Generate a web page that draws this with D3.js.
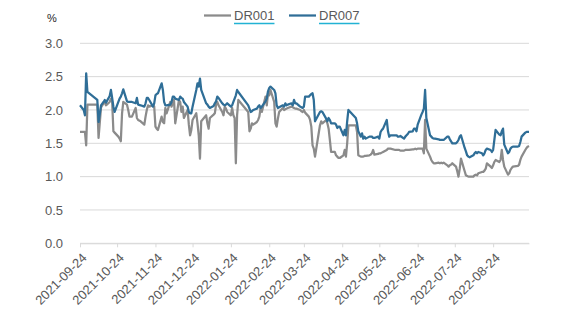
<!DOCTYPE html>
<html>
<head>
<meta charset="utf-8">
<script src="https://cdn.jsdelivr.net/npm/d3@7"></script>
<style>
  html, body { margin: 0; padding: 0; background: #ffffff; }
  svg { display: block; font-family: "Liberation Sans", Arial, sans-serif; }
</style>
</head>
<body>
<svg id="chart" width="569" height="329"></svg>
<script>
// Interbank repo rates, Sep 2021 – Sep 2022 (%)
const dates = [
  "2021-09-24","2021-09-27","2021-09-28","2021-09-29","2021-09-30","2021-10-08","2021-10-09","2021-10-11","2021-10-13","2021-10-14",
  "2021-10-15","2021-10-18","2021-10-19","2021-10-20","2021-10-21","2021-10-22","2021-10-25","2021-10-26","2021-10-27","2021-10-28",
  "2021-10-29","2021-11-01","2021-11-02","2021-11-03","2021-11-05","2021-11-08","2021-11-09","2021-11-10","2021-11-12","2021-11-15",
  "2021-11-16","2021-11-17","2021-11-18","2021-11-19","2021-11-22","2021-11-23","2021-11-24","2021-11-25","2021-11-26","2021-11-29",
  "2021-11-30","2021-12-01","2021-12-02","2021-12-03","2021-12-06","2021-12-07","2021-12-08","2021-12-09","2021-12-10","2021-12-13",
  "2021-12-14","2021-12-15","2021-12-16","2021-12-17","2021-12-20","2021-12-21","2021-12-22","2021-12-23","2021-12-24","2021-12-27",
  "2021-12-28","2021-12-29","2021-12-30","2021-12-31","2022-01-04","2022-01-05","2022-01-06","2022-01-07","2022-01-10","2022-01-11",
  "2022-01-12","2022-01-13","2022-01-14","2022-01-17","2022-01-18","2022-01-19","2022-01-20","2022-01-21","2022-01-24","2022-01-25",
  "2022-01-26","2022-01-27","2022-01-28","2022-01-29","2022-01-30","2022-02-07","2022-02-08","2022-02-09","2022-02-10","2022-02-11",
  "2022-02-14","2022-02-15","2022-02-16","2022-02-17","2022-02-18","2022-02-21","2022-02-22","2022-02-23","2022-02-24","2022-02-25",
  "2022-02-28","2022-03-01","2022-03-02","2022-03-03","2022-03-04","2022-03-07","2022-03-08","2022-03-09","2022-03-10","2022-03-11",
  "2022-03-14","2022-03-15","2022-03-16","2022-03-17","2022-03-18","2022-03-21","2022-03-22","2022-03-23","2022-03-24","2022-03-25",
  "2022-03-28","2022-03-29","2022-03-30","2022-03-31","2022-04-01","2022-04-02","2022-04-06","2022-04-07","2022-04-08","2022-04-11",
  "2022-04-12","2022-04-13","2022-04-14","2022-04-15","2022-04-18","2022-04-19","2022-04-20","2022-04-21","2022-04-22","2022-04-25",
  "2022-04-26","2022-04-27","2022-04-28","2022-04-29","2022-05-05","2022-05-06","2022-05-07","2022-05-09","2022-05-10","2022-05-11",
  "2022-05-12","2022-05-13","2022-05-16","2022-05-17","2022-05-18","2022-05-19","2022-05-20","2022-05-23","2022-05-24","2022-05-25",
  "2022-05-26","2022-05-27","2022-05-30","2022-05-31","2022-06-01","2022-06-02","2022-06-06","2022-06-07","2022-06-08","2022-06-09",
  "2022-06-10","2022-06-13","2022-06-14","2022-06-15","2022-06-16","2022-06-17","2022-06-20","2022-06-21","2022-06-22","2022-06-23",
  "2022-06-24","2022-06-27","2022-06-28","2022-06-29","2022-06-30","2022-07-01","2022-07-04","2022-07-05","2022-07-06","2022-07-07",
  "2022-07-08","2022-07-11","2022-07-12","2022-07-13","2022-07-14","2022-07-15","2022-07-18","2022-07-19","2022-07-20","2022-07-21",
  "2022-07-22","2022-07-25","2022-07-26","2022-07-27","2022-07-28","2022-07-29","2022-08-01","2022-08-02","2022-08-03","2022-08-04",
  "2022-08-05","2022-08-08","2022-08-09","2022-08-10","2022-08-11","2022-08-12","2022-08-15","2022-08-16","2022-08-17","2022-08-18",
  "2022-08-19","2022-08-22","2022-08-23","2022-08-24","2022-08-25","2022-08-26","2022-08-29","2022-08-30","2022-08-31","2022-09-01",
  "2022-09-02","2022-09-05","2022-09-06","2022-09-07","2022-09-08","2022-09-09","2022-09-13","2022-09-14","2022-09-15","2022-09-16",
  "2022-09-19","2022-09-20","2022-09-21","2022-09-22"
];

const dr001 = [
  1.67,1.67,1.67,1.47,2.08,2.08,1.58,2.04,2.10,2.12,
  2.07,2.12,2.17,2.12,1.68,1.66,1.60,1.57,1.53,1.95,
  2.12,2.08,2.00,1.90,1.90,2.03,1.88,1.85,1.83,1.78,
  1.90,2.00,2.07,2.05,2.07,2.05,1.75,1.72,1.70,1.90,
  1.82,1.80,2.03,1.95,2.12,2.05,2.10,2.15,1.80,2.15,
  2.12,1.97,2.05,1.88,2.00,1.78,1.62,1.70,1.85,1.95,
  1.80,1.62,1.27,1.83,1.92,1.80,1.72,1.88,1.93,1.95,
  2.08,2.12,2.07,1.97,1.92,2.05,2.02,1.97,1.92,2.03,
  1.92,1.88,1.20,1.92,2.15,1.97,1.68,1.72,1.80,1.78,
  1.82,1.85,1.90,2.03,1.97,2.20,2.07,2.25,2.22,2.30,
  2.12,1.80,1.75,1.87,1.97,2.03,2.00,2.01,2.02,2.03,
  2.05,2.04,2.03,2.02,2.02,2.00,1.98,1.97,2.00,1.96,
  1.90,1.85,1.75,1.47,1.42,1.30,1.77,1.83,1.80,1.85,
  1.80,1.72,1.55,1.37,1.37,1.32,1.30,1.28,1.28,1.32,
  1.40,1.30,1.50,1.77,1.77,1.67,1.32,1.30,1.30,1.30,
  1.31,1.31,1.32,1.33,1.35,1.40,1.33,1.34,1.35,1.35,
  1.36,1.37,1.40,1.42,1.42,1.42,1.40,1.40,1.40,1.40,
  1.39,1.39,1.40,1.40,1.40,1.40,1.41,1.41,1.42,1.41,
  1.42,1.42,1.42,1.35,1.85,1.42,1.30,1.25,1.22,1.20,
  1.20,1.21,1.20,1.21,1.20,1.21,1.17,1.15,1.17,1.18,
  1.20,1.15,1.08,1.00,1.12,1.27,1.08,1.02,1.01,1.00,
  1.00,1.00,1.02,1.03,1.02,1.05,1.07,1.07,1.09,1.12,
  1.20,1.15,1.13,1.17,1.22,1.25,1.22,1.25,1.40,1.25,
  1.15,1.03,1.05,1.10,1.13,1.15,1.16,1.18,1.25,1.30,
  1.40,1.43,1.45,1.46
];

const dr007 = [
  2.07,2.00,1.92,2.55,2.27,2.15,1.82,2.07,2.12,2.15,
  2.11,2.21,2.30,2.18,2.05,1.97,2.12,2.17,2.20,2.25,
  2.31,2.13,2.12,2.12,2.12,2.10,2.18,2.08,2.07,2.05,
  2.10,2.18,2.18,2.15,2.05,2.10,2.22,2.24,2.25,2.40,
  2.30,2.12,2.07,2.07,2.08,2.12,2.20,2.20,2.17,2.15,
  2.20,2.18,2.17,2.12,2.05,1.97,1.95,1.95,2.05,2.30,
  2.40,2.35,2.47,2.30,2.10,2.08,2.05,2.03,2.06,2.10,
  2.13,2.20,2.18,2.10,2.08,2.07,2.08,2.10,2.05,2.07,
  2.12,2.17,2.22,2.30,2.27,2.07,2.02,1.97,1.98,2.00,
  2.02,2.05,2.07,2.03,2.05,2.13,2.17,2.28,2.33,2.35,
  2.30,2.25,2.07,2.03,2.04,2.07,2.05,2.10,2.07,2.08,
  2.10,2.07,2.15,2.10,2.10,2.05,2.04,2.03,2.05,2.20,
  2.20,2.22,2.24,2.25,2.15,1.83,1.97,1.98,1.97,1.87,
  1.83,1.88,1.85,1.80,1.80,1.78,1.73,1.75,1.75,1.62,
  1.70,1.62,1.83,2.00,1.88,1.80,1.68,1.60,1.65,1.57,
  1.60,1.57,1.60,1.60,1.60,1.58,1.58,1.60,1.57,1.67,
  1.70,1.72,1.85,1.68,1.60,1.62,1.62,1.62,1.60,1.60,
  1.61,1.57,1.60,1.62,1.64,1.67,1.68,1.72,1.72,1.68,
  1.78,1.93,1.97,2.02,2.30,1.88,1.62,1.60,1.58,1.57,
  1.57,1.56,1.55,1.55,1.55,1.55,1.60,1.60,1.56,1.53,
  1.50,1.50,1.52,1.55,1.60,1.62,1.43,1.38,1.32,1.30,
  1.29,1.32,1.35,1.37,1.35,1.37,1.35,1.32,1.35,1.40,
  1.42,1.40,1.37,1.40,1.55,1.70,1.63,1.62,1.68,1.72,
  1.48,1.35,1.37,1.42,1.44,1.45,1.45,1.46,1.52,1.60,
  1.66,1.67,1.67,1.67
];

const seriesNames = ["DR001", "DR007"];
const seriesColors = ["#8b8b8b", "#2f6e97"];
const yTicks = [0, 0.5, 1.0, 1.5, 2.0, 2.5, 3.0];
const xTickLabels = [
  "2021-09-24","2021-10-24","2021-11-24","2021-12-24","2022-01-24","2022-02-24",
  "2022-03-24","2022-04-24","2022-05-24","2022-06-24","2022-07-24","2022-08-24"
];
const unitLabel = "%";

const parse = d3.timeParse("%Y-%m-%d");
const fmt = d3.timeFormat("%Y-%m-%d");

const svg = d3.select("#chart");
const plot = { left: 80, right: 529, top: 43.3, bottom: 243.3 };

const x = d3.scaleTime()
  .domain([parse(dates[0]), parse(dates[dates.length - 1])])
  .range([plot.left, plot.right]);
const y = d3.scaleLinear().domain([0, 3]).range([plot.bottom, plot.top]);

const textColor = "#595959";
const gridColor = "#d9d9d9";

// horizontal gridlines
svg.append("g")
  .selectAll("line")
  .data(yTicks)
  .join("line")
  .attr("x1", plot.left).attr("x2", plot.right)
  .attr("y1", d => y(d)).attr("y2", d => y(d))
  .attr("stroke", gridColor).attr("stroke-width", 1);

// y axis labels
const yAxis = svg.append("g")
  .attr("transform", `translate(${plot.left - 14},0)`)
  .call(d3.axisLeft(y).tickValues(yTicks).tickFormat(d3.format(".1f")).tickSize(0));
yAxis.select(".domain").remove();
yAxis.selectAll("text")
  .attr("fill", textColor)
  .style("font-size", "13px")
  .style("font-family", "'Liberation Sans', Arial, sans-serif");

// x axis with monthly ticks
const xAxis = svg.append("g")
  .attr("transform", `translate(0,${plot.bottom})`)
  .call(d3.axisBottom(x).tickValues(xTickLabels.map(parse)).tickFormat(fmt).tickSize(4).tickSizeOuter(0));
xAxis.select(".domain").attr("stroke", gridColor);
xAxis.selectAll(".tick line").attr("stroke", gridColor);
xAxis.selectAll("text")
  .attr("fill", textColor)
  .style("font-size", "13px")
  .style("font-family", "'Liberation Sans', Arial, sans-serif")
  .attr("text-anchor", "end")
  .attr("x", 0).attr("y", 0).attr("dy", "0.35em")
  .attr("transform", "translate(4,12) rotate(-45)");

// series lines
const seriesValues = [dr001, dr007];
seriesValues.forEach((vals, i) => {
  const line = d3.line()
    .x((d, j) => x(parse(dates[j])))
    .y(d => y(d));
  svg.append("path")
    .datum(vals)
    .attr("d", line)
    .attr("fill", "none")
    .attr("stroke", seriesColors[i])
    .attr("stroke-width", 2.25)
    .attr("stroke-linejoin", "round");
});

// unit label
svg.append("text")
  .attr("x", 47).attr("y", 22)
  .attr("fill", "#262626")
  .style("font-size", "11px")
  .text(unitLabel);

// legend
const legendPos = [204, 289];
seriesNames.forEach((name, i) => {
  const g = svg.append("g").attr("transform", `translate(${legendPos[i]},15.5)`);
  g.append("line")
    .attr("x1", 0).attr("x2", 27).attr("y1", 0).attr("y2", 0)
    .attr("stroke", seriesColors[i]).attr("stroke-width", 2.25);
  const t = g.append("text")
    .attr("x", 30).attr("y", 0).attr("dy", "0.35em")
    .attr("fill", textColor)
    .style("font-size", "13px")
    .text(name);
  const w = t.node().getComputedTextLength();
  g.append("line")
    .attr("x1", 30).attr("x2", 30 + w).attr("y1", 8).attr("y2", 8)
    .attr("stroke", "#22b2d4").attr("stroke-width", 1.5);
});
</script>
</body>
</html>
